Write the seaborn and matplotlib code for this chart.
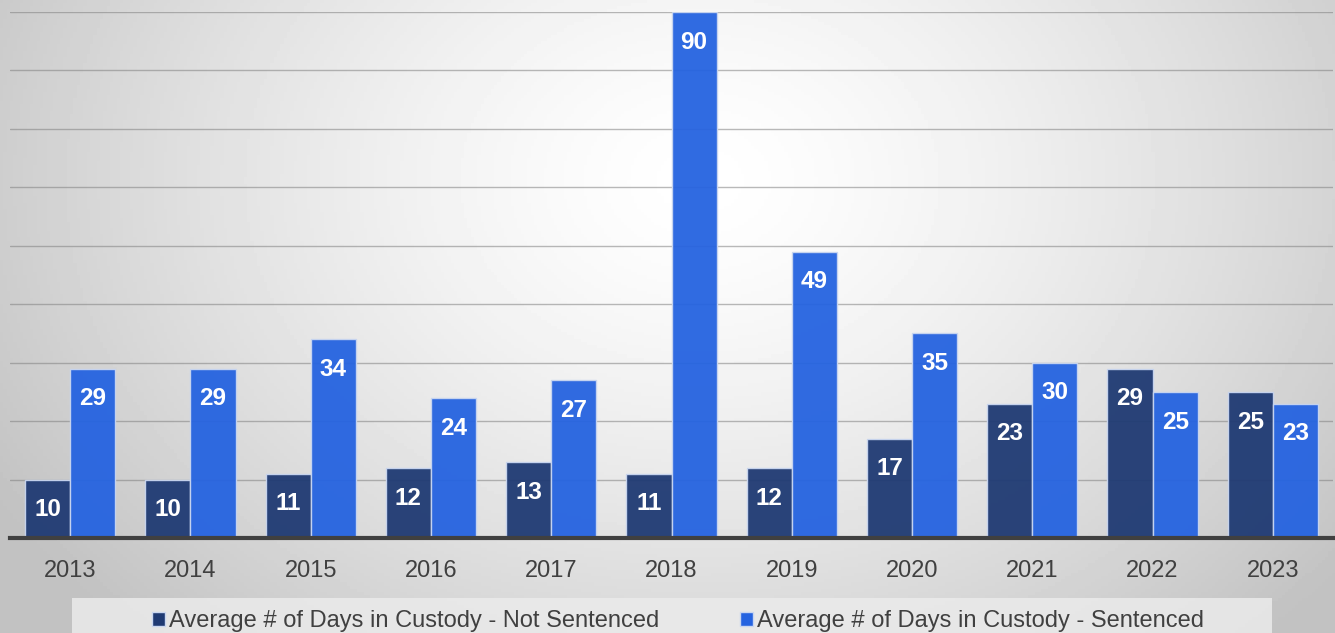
import matplotlib.pyplot as plt
import numpy as np
import pandas as pd
import seaborn as sns
from matplotlib.patches import Rectangle

years = ['2013', '2014', '2015', '2016', '2017', '2018', '2019', '2020', '2021', '2022', '2023']
not_sentenced = [10, 10, 11, 12, 13, 11, 12, 17, 23, 29, 25]
sentenced = [29, 29, 34, 24, 27, 90, 49, 35, 30, 25, 23]
series = ['Average # of Days in Custody - Not Sentenced', 'Average # of Days in Custody - Sentenced']

df = pd.DataFrame({
    'Year': years * 2,
    'Days': not_sentenced + sentenced,
    'Series': [series[0]] * len(years) + [series[1]] * len(years),
})

sns.set_theme(style='white')
plt.rcParams['font.family'] = ['Liberation Sans', 'DejaVu Sans']

fig = plt.figure(figsize=(13.35, 6.33), dpi=100)

# radial grey gradient behind everything
bg = fig.add_axes([0, 0, 1, 1], zorder=-5)
xx, yy = np.meshgrid(np.linspace(0, 1335, 400), np.linspace(0, 633, 200))
d = np.sqrt((xx - 700) ** 2 + ((yy - 180) * 1.3) ** 2) / 820
shade = 1 - 0.24 * np.clip(d, 0, 1) ** 1.4
bg.imshow(shade, cmap='gray', vmin=0, vmax=1, aspect='auto', extent=[0, 1335, 633, 0])
bg.axis('off')

ax = fig.add_axes([10 / 1335, 95 / 633, 1323 / 1335, 526 / 633])
ax.set_facecolor('none')

palette = {series[0]: '#1f3a73', series[1]: '#2563e0'}
sns.barplot(data=df, x='Year', y='Days', hue='Series', palette=palette, width=0.75,
            saturation=1, alpha=0.95, edgecolor='#c9d6f0', linewidth=1, ax=ax, legend=False, zorder=3)

ax.set_ylim(0, 90)
ax.set_xlim(-0.5, len(years) - 0.5)
ax.set_yticks(np.arange(0, 91, 10))
ax.yaxis.grid(True, color='#808080', alpha=0.55, linewidth=1, zorder=0)
ax.set_axisbelow(True)
ax.tick_params(axis='y', left=False, labelleft=False)
ax.tick_params(axis='x', bottom=False, labelsize=17, labelcolor='#404040', pad=10)
ax.set_xlabel('')
ax.set_ylabel('')
for s in ['top', 'right', 'left']:
    ax.spines[s].set_visible(False)
ax.spines['bottom'].set_color('#404040')
ax.spines['bottom'].set_linewidth(3)
ax.spines['bottom'].set_zorder(5)

for cont in ax.containers:
    for bar in cont:
        h = bar.get_height()
        ax.annotate(f'{h:.0f}', (bar.get_x() + bar.get_width() / 2, h), xytext=(0, -20),
                    textcoords='offset points', ha='center', va='center_baseline',
                    color='white', fontsize=17.5, fontweight='bold', zorder=6)

# legend band
fig.patches.append(Rectangle((72 / 1335, 0), 1200 / 1335, 35 / 633, transform=fig.transFigure,
                             facecolor='#ebebeb', edgecolor='none', alpha=0.85, zorder=-1))
handles = [Rectangle((0, 0), 1, 1, facecolor=palette[s], edgecolor='#c9d6f0') for s in series]
fig.legend(handles, series, loc='center', bbox_to_anchor=(678 / 1335, 12 / 633), ncol=2,
           frameon=False, fontsize=17, labelcolor='#404040', handlelength=0.55, handleheight=0.55,
           handletextpad=0.2, columnspacing=3.4)

fig.savefig('out.png', dpi=100)
